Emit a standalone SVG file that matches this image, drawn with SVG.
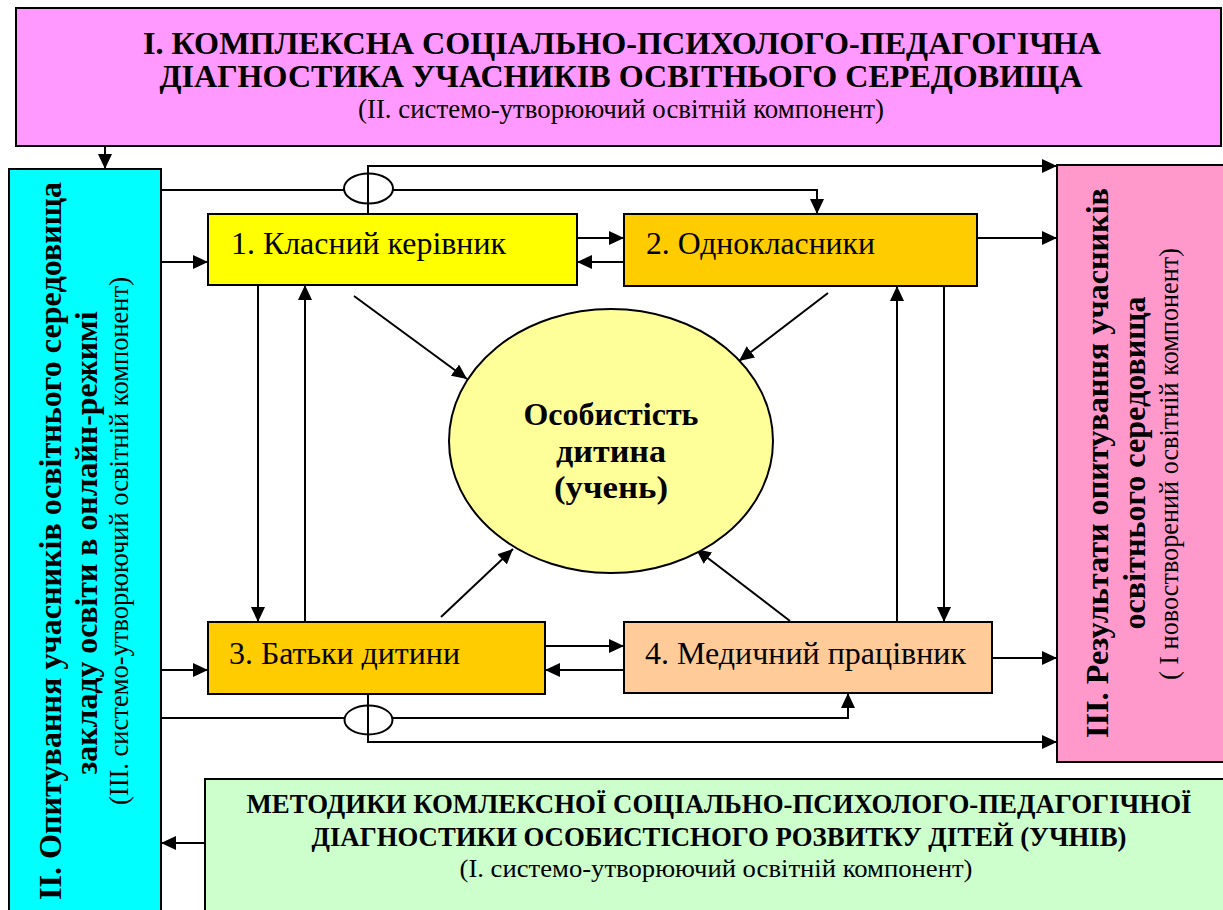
<svg xmlns="http://www.w3.org/2000/svg" width="1223" height="910" viewBox="0 0 1223 910">
<style>
text{font-family:"Liberation Serif","DejaVu Serif",serif;fill:#000}
.b{font-weight:bold;font-size:32px}
.r{font-size:27px}
.n{font-size:32px}
.box{stroke:#000;stroke-width:2}
.conn path{fill:none;stroke:#000;stroke-width:2}
.jump{fill:#fff;stroke:#000;stroke-width:2}
</style>
<defs>
<marker id="ah" markerUnits="userSpaceOnUse" markerWidth="16" markerHeight="14" viewBox="0 0 16 14" refX="15" refY="7" orient="auto">
<path d="M0,0 L15,7 L0,14 z" fill="#000"/>
</marker>
</defs>
<rect width="1223" height="910" fill="#fff"/>

<g id="connectors" class="conn">
<path d="M105,147 V169" marker-end="url(#ah)"/>
<path d="M161,262 H208" marker-end="url(#ah)"/>
<path d="M161,190 H817 V214" marker-end="url(#ah)"/>
<ellipse class="jump" cx="368.5" cy="188.5" rx="24.5" ry="15"/>
<path d="M368,214 V166 H1057" marker-end="url(#ah)"/>
<path d="M577,238 H624" marker-end="url(#ah)"/>
<path d="M624,262 H577" marker-end="url(#ah)"/>
<path d="M977,238 H1057" marker-end="url(#ah)"/>
<path d="M258,285 V622" marker-end="url(#ah)"/>
<path d="M305,622 V285" marker-end="url(#ah)"/>
<path d="M944,286 V622" marker-end="url(#ah)"/>
<path d="M897,622 V286" marker-end="url(#ah)"/>
<path d="M354,296 L467,379" marker-end="url(#ah)"/>
<path d="M828,293 L739,361" marker-end="url(#ah)"/>
<path d="M441,617 L513,549" marker-end="url(#ah)"/>
<path d="M790,621 L696,549" marker-end="url(#ah)"/>
<path d="M545,646 H624" marker-end="url(#ah)"/>
<path d="M624,670 H545" marker-end="url(#ah)"/>
<path d="M161,670 H208" marker-end="url(#ah)"/>
<path d="M992,658 H1057" marker-end="url(#ah)"/>
<path d="M161,718 H848 V693" marker-end="url(#ah)"/>
<ellipse class="jump" cx="368.5" cy="720" rx="24" ry="14.5"/>
<path d="M368,693 V742 H1057" marker-end="url(#ah)"/>
<path d="M205,843 H161" marker-end="url(#ah)"/>
</g>

<g id="top-diagnostics">
<rect class="box" x="16" y="8" width="1205" height="138" fill="#ff99ff"/>
<text class="b" x="622" y="54" text-anchor="middle" textLength="958" lengthAdjust="spacingAndGlyphs">І. КОМПЛЕКСНА СОЦІАЛЬНО-ПСИХОЛОГО-ПЕДАГОГІЧНА</text>
<text class="b" x="621" y="87" text-anchor="middle" textLength="923" lengthAdjust="spacingAndGlyphs">ДІАГНОСТИКА УЧАСНИКІВ ОСВІТНЬОГО СЕРЕДОВИЩА</text>
<text class="r" x="621" y="118" text-anchor="middle" textLength="526" lengthAdjust="spacingAndGlyphs">(ІІ. системо-утворюючий освітній компонент)</text>
</g>

<g id="left-survey">
<rect class="box" x="9" y="169" width="152" height="760" fill="#00ffff"/>
<text class="b" transform="translate(61,541) rotate(-90)" text-anchor="middle" textLength="718" lengthAdjust="spacingAndGlyphs">ІІ. Опитування учасників освітнього середовища</text>
<text class="b" transform="translate(97,543) rotate(-90)" text-anchor="middle" textLength="463" lengthAdjust="spacingAndGlyphs">закладу освіти в онлайн-режимі</text>
<text class="r" transform="translate(128,541) rotate(-90)" text-anchor="middle" textLength="528" lengthAdjust="spacingAndGlyphs">(ІІІ. системо-утворюючий освітній компонент)</text>
</g>

<g id="right-results">
<rect class="box" x="1057" y="165" width="180" height="597" fill="#ff99cc"/>
<text class="b" transform="translate(1108,463) rotate(-90)" text-anchor="middle" textLength="550" lengthAdjust="spacingAndGlyphs">ІІІ. Результати опитування учасників</text>
<text class="b" transform="translate(1145,463) rotate(-90)" text-anchor="middle" textLength="333" lengthAdjust="spacingAndGlyphs">освітнього середовища</text>
<text class="r" transform="translate(1178,464) rotate(-90)" text-anchor="middle" textLength="432" lengthAdjust="spacingAndGlyphs">( І новостворений освітній компонент)</text>
</g>

<g id="bottom-methods">
<rect class="box" x="205" y="779" width="1030" height="150" fill="#ccffcc"/>
<text class="b" x="719" y="813" text-anchor="middle" style="font-size:27px" textLength="945" lengthAdjust="spacingAndGlyphs">МЕТОДИКИ КОМЛЕКСНОЇ СОЦІАЛЬНО-ПСИХОЛОГО-ПЕДАГОГІЧНОЇ</text>
<text class="b" x="719" y="846" text-anchor="middle" style="font-size:27px" textLength="815" lengthAdjust="spacingAndGlyphs">ДІАГНОСТИКИ ОСОБИСТІСНОГО РОЗВИТКУ ДІТЕЙ (УЧНІВ)</text>
<text class="r" x="716" y="877" text-anchor="middle" style="font-size:25px" textLength="513" lengthAdjust="spacingAndGlyphs">(І. системо-утворюючий освітній компонент)</text>
</g>

<g id="node1">
<rect class="box" x="208" y="214" width="369" height="71" fill="#ffff00"/>
<text class="n" x="231" y="254" textLength="275" lengthAdjust="spacingAndGlyphs">1. Класний керівник</text>
</g>
<g id="node2">
<rect class="box" x="624" y="214" width="353" height="72" fill="#ffcc00"/>
<text class="n" x="646" y="254" textLength="229" lengthAdjust="spacingAndGlyphs">2. Однокласники</text>
</g>
<g id="node3">
<rect class="box" x="208" y="622" width="337" height="72" fill="#ffcc00"/>
<text class="n" x="229" y="664" textLength="231" lengthAdjust="spacingAndGlyphs">3. Батьки дитини</text>
</g>
<g id="node4">
<rect class="box" x="624" y="622" width="368" height="71" fill="#ffcc99"/>
<text class="n" x="645" y="664" textLength="321" lengthAdjust="spacingAndGlyphs">4. Медичний працівник</text>
</g>
<g id="center-person">
<ellipse class="box" cx="611" cy="441" rx="162" ry="132" fill="#ffff99"/>
<text class="b" x="611" y="425" text-anchor="middle" textLength="175" lengthAdjust="spacingAndGlyphs">Особистість</text>
<text class="b" x="611" y="462" text-anchor="middle" textLength="110" lengthAdjust="spacingAndGlyphs">дитина</text>
<text class="b" x="611" y="498" text-anchor="middle" textLength="114" lengthAdjust="spacingAndGlyphs">(учень)</text>
</g>
</svg>
